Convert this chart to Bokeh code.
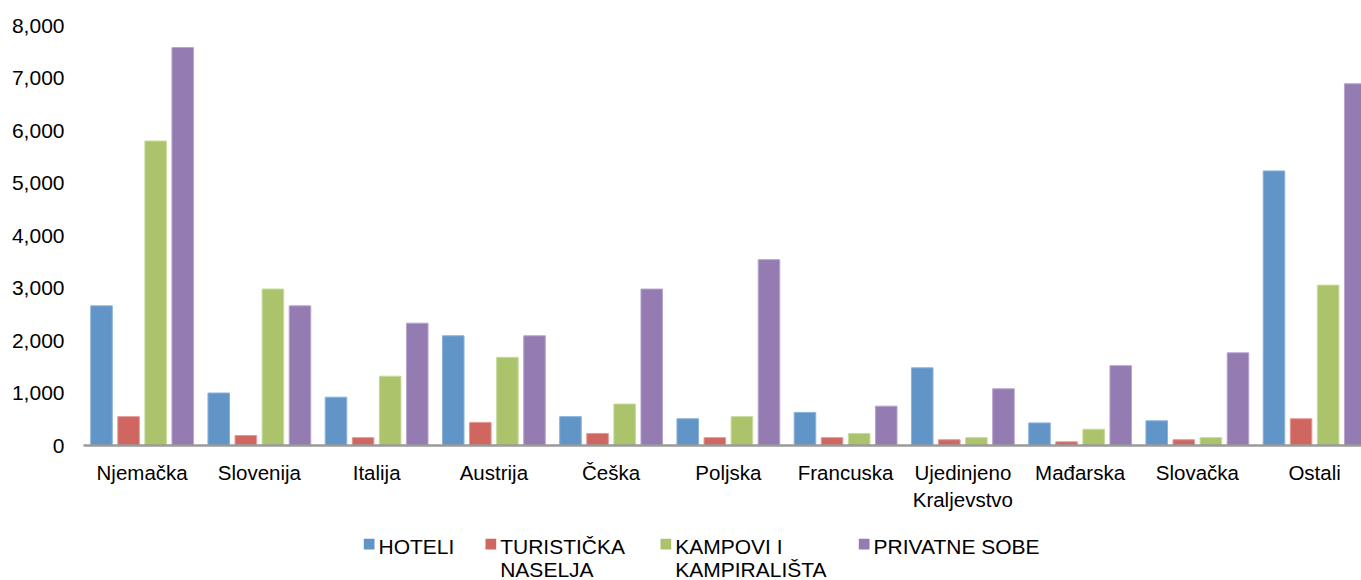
import numpy as np
from bokeh.plotting import figure
from bokeh.layouts import column
from bokeh.models import Range1d, FixedTicker, NumeralTickFormatter
from bokeh.core.properties import value
from bokeh.embed import file_html
from bokeh.resources import INLINE

categories = ["Njemačka", "Slovenija", "Italija", "Austrija", "Češka", "Poljska",
              "Francuska", "Ujedinjeno\nKraljevstvo", "Mađarska", "Slovačka", "Ostali"]
hoteli = [2660, 1000, 920, 2090, 550, 510, 630, 1480, 430, 470, 5230]
turisticka_naselja = [550, 190, 150, 440, 230, 150, 150, 110, 70, 110, 510]
kampovi = [5800, 2980, 1320, 1680, 790, 550, 230, 150, 310, 150, 3055]
privatne_sobe = [7580, 2660, 2330, 2090, 2980, 3540, 750, 1080, 1520, 1765, 6890]
series_names = [["HOTELI"], ["TURISTIČKA", "NASELJA"], ["KAMPOVI I", "KAMPIRALIŠTA"], ["PRIVATNE SOBE"]]
y_ticks = [0, 1000, 2000, 3000, 4000, 5000, 6000, 7000, 8000]

fills = ["#6195C8", "#CF6660", "#ABC46C", "#947BB2"]
edges = ["#8AB2DA", "#E29A95", "#C8DA9C", "#B6A5CC"]
offsets = [-0.3465, -0.1155, 0.1155, 0.3465]
bar_w = 0.184

FONT = "Liberation Sans"
W = 1361
H_MAIN = 520
H_LEG = 60
LEFT = 83

p = figure(width=W, height=H_MAIN, output_backend="svg", toolbar_location=None,
           x_range=Range1d(0, 10.9), y_range=Range1d(0, 8000),
           min_border_left=LEFT, min_border_top=25, min_border_bottom=75,
           min_border_right=0)
p.outline_line_color = None
p.xgrid.grid_line_color = None
p.ygrid.grid_line_color = None

centers = np.arange(len(categories)) + 0.5
for vals, fc, ec, off in zip([hoteli, turisticka_naselja, kampovi, privatne_sobe], fills, edges, offsets):
    p.vbar(x=centers + off, top=vals, width=bar_w, bottom=0,
           fill_color=fc, line_color=ec, line_width=1)

# x axis
p.xaxis.ticker = FixedTicker(ticks=list(centers))
p.xaxis.major_label_overrides = {float(c): name for c, name in zip(centers, categories)}
p.xaxis.axis_line_color = "#9A9A9A"
p.xaxis.axis_line_width = 2.5
p.xaxis.major_tick_line_color = None
p.xaxis.minor_tick_line_color = None
p.xaxis.major_tick_out = 0
p.xaxis.major_tick_in = 0
p.xaxis.major_label_standoff = 15
p.xaxis.major_label_text_font = FONT
p.xaxis.major_label_text_font_size = "20.5px"
p.xaxis.major_label_text_color = "#000000"

# y axis
p.yaxis.ticker = FixedTicker(ticks=y_ticks)
p.yaxis.formatter = NumeralTickFormatter(format="0,0")
p.yaxis.axis_line_color = None
p.yaxis.major_tick_line_color = None
p.yaxis.minor_tick_line_color = None
p.yaxis.major_tick_out = 0
p.yaxis.major_tick_in = 0
p.yaxis.major_label_standoff = 19
p.yaxis.major_label_text_font = FONT
p.yaxis.major_label_text_font_size = "21px"
p.yaxis.major_label_text_color = "#000000"

# legend strip (pixel-based coordinates; its frame is aligned with the main frame)
leg = figure(width=W, height=H_LEG, output_backend="svg", toolbar_location=None,
             x_range=Range1d(LEFT, W), y_range=Range1d(0, H_LEG),
             min_border_left=LEFT, min_border_right=0, min_border_top=0, min_border_bottom=0,
             x_axis_type=None, y_axis_type=None)
leg.outline_line_color = None
leg.xgrid.grid_line_color = None
leg.ygrid.grid_line_color = None

sq_left = [363.3, 485.0, 660.0, 858.3]
sq_size = 10.7
sq_top_from_top = 18.3
text_gap = 4.0
line1_base = H_LEG - 26.0
line_step = 23.0

sq_x = [s + sq_size / 2 for s in sq_left]
sq_y = [H_LEG - sq_top_from_top - sq_size / 2] * len(sq_left)
leg.rect(x=sq_x, y=sq_y, width=sq_size, height=sq_size, fill_color=fills, line_color=None)

tx, ty, tt = [], [], []
for s, lines in zip(sq_left, series_names):
    for k, line in enumerate(lines):
        tx.append(s + sq_size + text_gap)
        ty.append(line1_base - k * line_step)
        tt.append(line)
leg.text(x=tx, y=ty, text=tt, text_font=value(FONT), text_font_size=value("21px"),
         text_color="#000000", text_baseline="alphabetic", text_align="left")

layout = column(p, leg, spacing=0)
open("out.html", "w").write(file_html(layout, INLINE))
